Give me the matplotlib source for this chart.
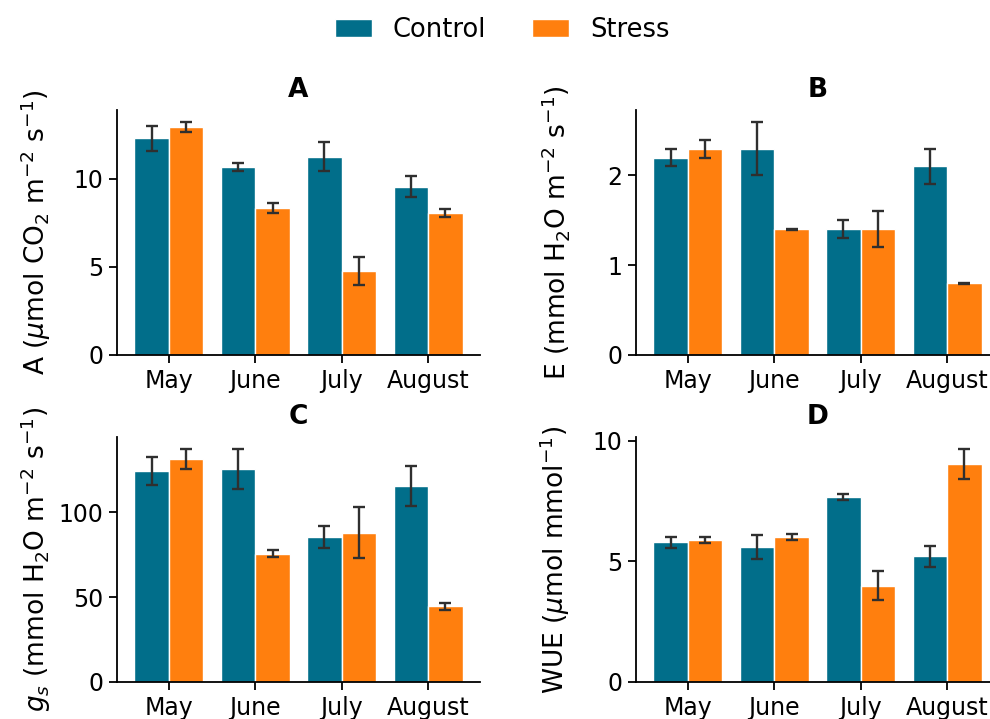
import numpy as np
import matplotlib
matplotlib.use("Agg")
import matplotlib.pyplot as plt

months = ["May", "June", "July", "August"]
groups = ["Control", "Stress"]

# panel values (mean, error)
A_ctrl = [12.3, 10.67, 11.26, 9.56]
A_ctrl_err = [0.7, 0.23, 0.83, 0.6]
A_str = [12.95, 8.35, 4.77, 8.05]
A_str_err = [0.3, 0.3, 0.8, 0.23]

E_ctrl = [2.2, 2.3, 1.4, 2.1]
E_ctrl_err = [0.1, 0.3, 0.1, 0.2]
E_str = [2.3, 1.4, 1.4, 0.8]
E_str_err = [0.1, 0.005, 0.2, 0.005]

gs_ctrl = [124.3, 125.5, 85.5, 115.5]
gs_ctrl_err = [8, 12, 6.3, 12]
gs_str = [131.3, 75.5, 87.8, 44.6]
gs_str_err = [6, 2, 15, 2.2]

wue_ctrl = [5.78, 5.6, 7.67, 5.2]
wue_ctrl_err = [0.22, 0.5, 0.11, 0.42]
wue_str = [5.87, 6.0, 3.98, 9.05]
wue_str_err = [0.12, 0.12, 0.6, 0.62]

panels = [
    ("A", A_ctrl, A_ctrl_err, A_str, A_str_err,
     r"A ($\mu$mol CO$_2$ m$^{-2}$ s$^{-1}$)", [0, 5, 10]),
    ("B", E_ctrl, E_ctrl_err, E_str, E_str_err,
     r"E (mmol H$_2$O m$^{-2}$ s$^{-1}$)", [0, 1, 2]),
    ("C", gs_ctrl, gs_ctrl_err, gs_str, gs_str_err,
     r"$g_s$ (mmol H$_2$O m$^{-2}$ s$^{-1}$)", [0, 50, 100]),
    ("D", wue_ctrl, wue_ctrl_err, wue_str, wue_str_err,
     r"WUE ($\mu$mol mmol$^{-1}$)", [0, 5, 10]),
]

col_ctrl = "#016e8a"
col_str = "#ff7f0e"

fig = plt.figure(figsize=(9.9, 7.19), dpi=100)
positions = [
    [0.1182, 0.5063, 0.3667, 0.3408],
    [0.6424, 0.5063, 0.3667, 0.3408],
    [0.1182, 0.0515, 0.3667, 0.3408],
    [0.6424, 0.0515, 0.3667, 0.3408],
]

x = np.arange(len(months))
w = 0.4
ekw = dict(ecolor="#2f2f2f", elinewidth=1.7, capsize=4.5, capthick=1.7)

for pos, (title, c, ce, s, se, ylab, yt) in zip(positions, panels):
    ax = fig.add_axes(pos)
    ax.bar(x - w / 2, c, w, yerr=ce, color=col_ctrl, edgecolor="white",
           linewidth=1, error_kw=ekw, label="Control")
    ax.bar(x + w / 2, s, w, yerr=se, color=col_str, edgecolor="white",
           linewidth=1, error_kw=ekw, label="Stress")
    ax.set_xlim(-0.6, 3.6)
    ax.set_xticks(x)
    ax.set_xticklabels(months)
    ax.set_yticks(yt)
    ax.set_ylabel(ylab, fontsize=19)
    ax.yaxis.set_label_coords(-0.175, 0.5)
    ax.set_title(title, fontsize=19, fontweight="bold", pad=9)
    ax.tick_params(labelsize=17, length=6, width=1.3, pad=4)
    ax.spines["top"].set_visible(False)
    ax.spines["right"].set_visible(False)
    for sp in ["left", "bottom"]:
        ax.spines[sp].set_linewidth(1.3)
    if title == "A":
        handles, labels = ax.get_legend_handles_labels()

fig.legend(handles, labels, loc="center", bbox_to_anchor=(0.507, 0.958),
           ncol=2, frameon=False, fontsize=18.5, handlelength=1.45,
           handleheight=0.7, columnspacing=1.8)

fig.savefig("out.png", dpi=100)
